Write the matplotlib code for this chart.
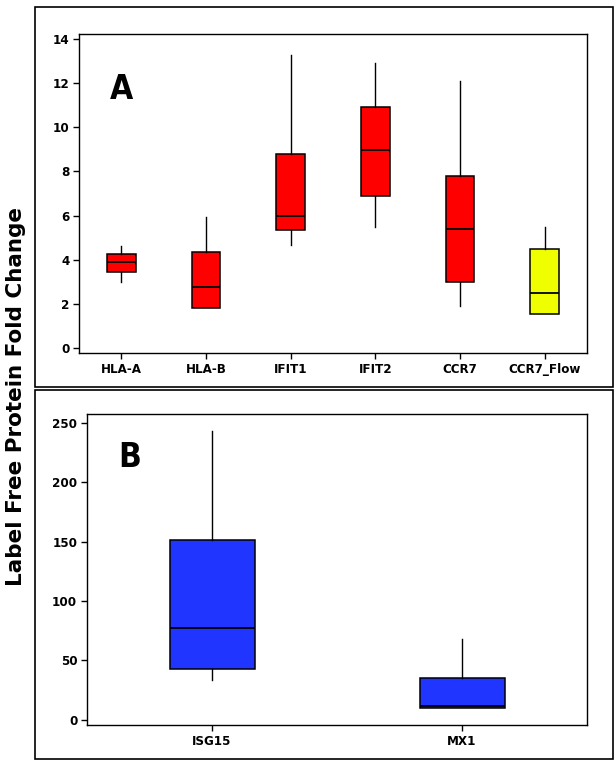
import matplotlib
matplotlib.use("Agg")
import matplotlib.pyplot as plt
from matplotlib.patches import Rectangle

# panel A: label free fold change (five number summaries)
genes_a = ["HLA-A", "HLA-B", "IFIT1", "IFIT2", "CCR7", "CCR7_Flow"]
whislo_a = [2.98, 1.81, 4.65, 5.48, 1.89, 1.56]
q1_a = [3.46, 1.81, 5.36, 6.89, 3.01, 1.56]
med_a = [3.90, 2.75, 5.97, 8.96, 5.41, 2.51]
q3_a = [4.24, 4.35, 8.81, 10.94, 7.81, 4.47]
whishi_a = [4.64, 5.94, 13.29, 12.92, 12.11, 5.48]
colors_a = ["#ff0000", "#ff0000", "#ff0000", "#ff0000", "#ff0000", "#f0ff00"]

# panel B
genes_b = ["ISG15", "MX1"]
whislo_b = [33.3, 9.5]
q1_b = [43.1, 9.9]
med_b = [77.2, 11.8]
q3_b = [151.0, 34.7]
whishi_b = [243.0, 68.2]
colors_b = ["#2035ff", "#2035ff"]

tick_font = dict(family="DejaVu Sans", stretch="condensed", weight="bold", size=9.5)
W, H = 614, 767

fig = plt.figure(figsize=(W / 100, H / 100), dpi=100)


def frac(l, t, r, b):
    return [l / W, 1 - b / H, (r - l) / W, (b - t) / H]


def draw_panel(ax, genes, lo, q1, med, q3, hi, colors):
    stats = []
    for g, a, b, c, d, e in zip(genes, lo, q1, med, q3, hi):
        stats.append(dict(label=g, whislo=a, q1=b, med=c, q3=d, whishi=e, fliers=[]))
    bp = ax.bxp(stats, widths=0.34, showcaps=False, patch_artist=True,
                boxprops=dict(edgecolor="black", linewidth=1.1),
                whiskerprops=dict(color="black", linewidth=1.0),
                medianprops=dict(color="black", linewidth=1.3))
    for patch, col in zip(bp["boxes"], colors):
        patch.set_facecolor(col)
    ax.set_xlim(0.5, len(genes) + 0.5)
    ax.tick_params(direction="out", length=4, width=1, pad=3)
    for s in ax.spines.values():
        s.set_linewidth(1.0)


def style_ticks(ax):
    for lab in ax.get_xticklabels() + ax.get_yticklabels():
        lab.set(**tick_font)


ax1 = fig.add_axes(frac(79, 34, 587, 353))
draw_panel(ax1, genes_a, whislo_a, q1_a, med_a, q3_a, whishi_a, colors_a)
ax1.set_ylim(-0.23, 14.23)
ax1.set_yticks(range(0, 15, 2))
style_ticks(ax1)
ax1.text(1.0, 11.7, "A", ha="center", va="center", family="DejaVu Sans",
         stretch="condensed", weight="bold", fontsize=24)

ax2 = fig.add_axes(frac(87, 414, 587, 725))
draw_panel(ax2, genes_b, whislo_b, q1_b, med_b, q3_b, whishi_b, colors_b)
ax2.set_ylim(-4.5, 257.6)
ax2.set_yticks(range(0, 251, 50))
style_ticks(ax2)
ax2.text(0.67, 221, "B", ha="center", va="center", family="DejaVu Sans",
         stretch="condensed", weight="bold", fontsize=24)

# outer frames around each panel
fig.patches.append(Rectangle((35 / W, 1 - 387 / H), 578 / W, 380 / H, transform=fig.transFigure,
                             fill=False, edgecolor="black", linewidth=1.2))
fig.patches.append(Rectangle((35 / W, 1 - 759 / H), 578 / W, 369 / H, transform=fig.transFigure,
                             fill=False, edgecolor="black", linewidth=1.2))

fig.text(16 / W, 1 - 396 / H, "Label Free Protein Fold Change", rotation=90,
         ha="center", va="center", family="DejaVu Sans", weight="bold", fontsize=15.5)

fig.savefig("out.png", dpi=100)
